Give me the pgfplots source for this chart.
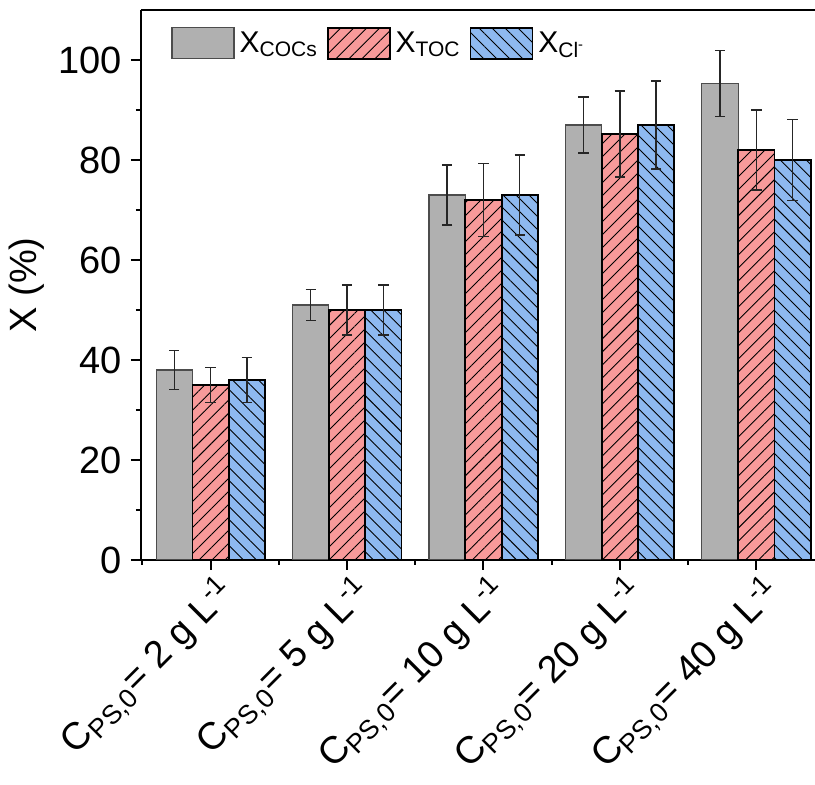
\documentclass[border=0pt]{standalone}
\usepackage{fontspec}
\setmainfont{Liberation Sans}
\usepackage{pgfplots}
\pgfplotsset{compat=1.18}
\usetikzlibrary{patterns.meta,calc}
\definecolor{cgray}{RGB}{176,176,176}
\definecolor{cred}{RGB}{248,154,154}
\definecolor{cblue}{RGB}{142,185,240}

\begin{document}
\begin{tikzpicture}
\begin{axis}[
  scale only axis,
  width=337pt, height=275pt,
  xmin=-0.51, xmax=4.43,
  ymin=0, ymax=110,
  axis x line=box, axis y line=left,
  axis line style={line width=1pt, -},
  xtick={0,1,2,3,4},
  xticklabels={
    {C\textsubscript{PS,0}= 2 g L\textsuperscript{-1}},
    {C\textsubscript{PS,0}= 5 g L\textsuperscript{-1}},
    {C\textsubscript{PS,0}= 10 g L\textsuperscript{-1}},
    {C\textsubscript{PS,0}= 20 g L\textsuperscript{-1}},
    {C\textsubscript{PS,0}= 40 g L\textsuperscript{-1}}},
  minor xtick={-0.5,0.5,1.5,2.5,3.5},
  xtick pos=left,
  ytick={0,20,40,60,80,100},
  minor ytick={10,30,50,70,90},
  ytick pos=left,
  tick align=outside,
  major tick length=5pt, minor tick length=2.5pt,
  every tick/.style={line width=1pt, black},
  /pgf/number format/assume math mode=true,
  yticklabel style={font=\fontsize{19}{22}\selectfont, xshift=-1pt},
  xticklabel style={font=\fontsize{19}{22}\selectfont, rotate=45, anchor=north east, inner sep=1pt, yshift=-1pt, xshift=2pt},
  ylabel={X (\%)},
  ylabel style={font=\fontsize{19}{22}\selectfont},
  bar width=0.266,
  legend style={draw=none, fill=none, at={(rel axis cs:0,1)}, anchor=north west,
     xshift=12pt, yshift=-6pt,
     font=\fontsize{15}{18}\selectfont,
     legend columns=3,
     /tikz/every even column/.append style={column sep=2pt},
     nodes={inner sep=2.5pt}},
  legend image code/.code={\draw[#1] (0pt,-7.75pt) rectangle (31pt,7.75pt);},
  error bars/error bar style={line width=0.7pt, black!85},
  error bars/error mark options={rotate=90, mark size=2.6pt, line width=0.7pt, black!85},
]
\addplot[ybar, bar shift=0, fill=cgray, draw=black!70, line width=0.6pt,
  error bars/.cd, y dir=both, y explicit]
  table[x=x, y=y, y error=e] {
  x y e
  -0.266 38 3.9
  0.734 51 3.1
  1.734 73 6.0
  2.734 87 5.6
  3.734 95.3 6.6
};
\addlegendentry{X\textsubscript{COCs}}
\addplot[ybar, bar shift=0, fill=cred, draw=black, line width=0.9pt,
  postaction={pattern={Lines[angle=45,distance=4.6pt,line width=0.45pt]}, pattern color=black},
  error bars/.cd, y dir=both, y explicit]
  table[x=x, y=y, y error=e] {
  x y e
  0 35 3.5
  1 50 5.0
  2 72 7.3
  3 85.2 8.6
  4 82 8.0
};
\addlegendentry{X\textsubscript{TOC}}
\addplot[ybar, bar shift=0, fill=cblue, draw=black, line width=0.9pt,
  postaction={pattern={Lines[angle=-45,distance=4.6pt,line width=0.45pt]}, pattern color=black},
  error bars/.cd, y dir=both, y explicit]
  table[x=x, y=y, y error=e] {
  x y e
  0.266 36 4.5
  1.266 50 5.0
  2.266 73 8.0
  3.266 87 8.8
  4.266 80 8.1
};
\addlegendentry{X\textsubscript{Cl\textsuperscript{-}}}
\end{axis}
\pgfresetboundingbox
\path[use as bounding box] ($(current axis.south west)+(-70.5pt,-112.5pt)$) rectangle ($(current axis.north east)+(0,5pt)$);
\end{tikzpicture}
\end{document}
